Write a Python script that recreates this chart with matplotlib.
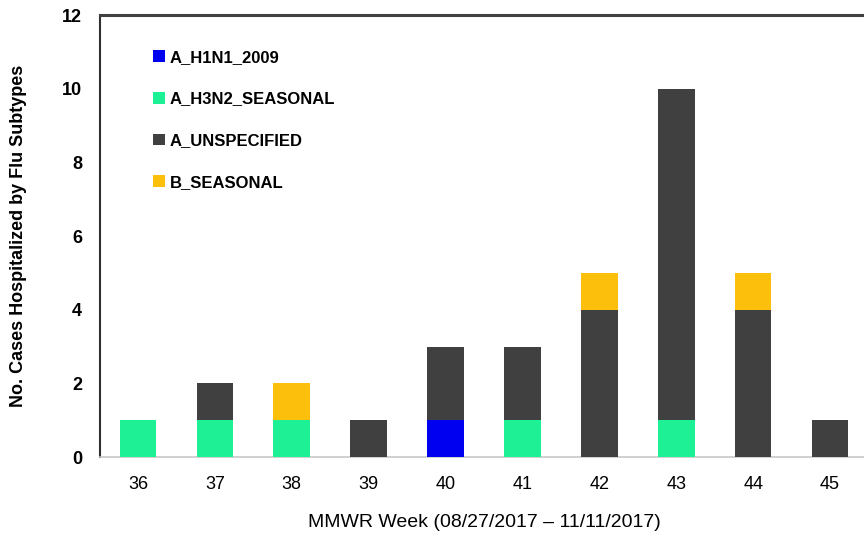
import matplotlib
matplotlib.use('Agg')
import matplotlib.pyplot as plt
import numpy as np

weeks = [36, 37, 38, 39, 40, 41, 42, 43, 44, 45]
h1n1 = [0, 0, 0, 0, 1, 0, 0, 0, 0, 0]
h3n2 = [1, 1, 1, 0, 0, 1, 0, 1, 0, 0]
unspecified = [0, 1, 0, 1, 2, 2, 4, 9, 4, 1]
b_seasonal = [0, 0, 1, 0, 0, 0, 1, 0, 1, 0]

series = {
    "A_H1N1_2009": (h1n1, '#0000f0'),
    "A_H3N2_SEASONAL": (h3n2, '#1ef095'),
    "A_UNSPECIFIED": (unspecified, '#404040'),
    "B_SEASONAL": (b_seasonal, '#fcbf0c'),
}

narrow = ['Liberation Sans Narrow', 'Liberation Sans', 'DejaVu Sans']

fig = plt.figure(figsize=(8.64, 5.4), dpi=100)
ax = fig.add_axes([99.5 / 864, 1 - 457 / 540, 769 / 864, 442 / 540])

bottom = np.zeros(len(weeks))
handles = []
for name, (vals, col) in series.items():
    h = ax.bar(weeks, vals, width=0.477, bottom=bottom, color=col, label=name, zorder=3)
    handles.append(h)
    bottom += np.array(vals)

ax.set_xlim(35.5, 45.5)
ax.set_ylim(0, 12)
ax.set_yticks(range(0, 13, 2))
ax.set_xticks(weeks)
ax.set_xticklabels([str(w) for w in weeks], family=narrow, fontsize=13)
ax.set_yticklabels([str(v) for v in range(0, 13, 2)], family=narrow, fontsize=13, fontweight='bold')
ax.tick_params(length=0, pad=14)
ax.tick_params(axis='y', pad=12.5)

ax.spines['right'].set_visible(False)
ax.spines['top'].set_color('#404040')
ax.spines['top'].set_linewidth(2.2)
ax.spines['left'].set_color('#303030')
ax.spines['left'].set_linewidth(1.5)
ax.spines['bottom'].set_color('#c8c8c8')
ax.spines['bottom'].set_linewidth(1.2)

ax.set_ylabel('No. Cases Hospitalized by Flu Subtypes', family=narrow, fontsize=13,
              fontweight='bold')
ax.set_xlabel('MMWR Week (08/27/2017 \u2013 11/11/2017)', family=narrow, fontsize=14, labelpad=15)
ax.yaxis.set_label_coords(-0.094, 0.5)

leg = ax.legend(handles=handles, loc='upper left', bbox_to_anchor=(0.05, 0.955), frameon=False,
                prop={'family': narrow, 'weight': 'bold', 'size': 12},
                handlelength=0.7, handleheight=0.7, handletextpad=0.3, labelspacing=1.6)

fig.savefig('out.png', dpi=100)
